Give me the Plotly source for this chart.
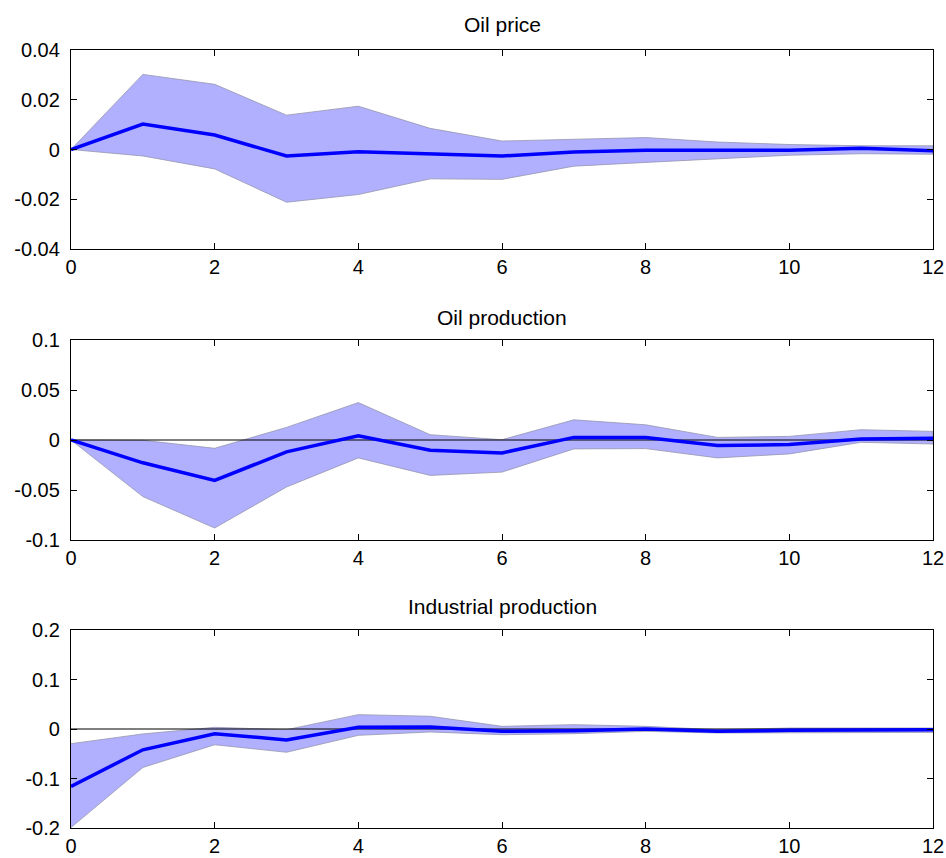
import plotly.graph_objects as go

periods = list(range(13))

titles = ["Oil price", "Oil production", "Industrial production"]

oil_price_mean = [0, 0.0102, 0.0058, -0.0026, -0.0009, -0.0016, -0.0026, -0.0010, -0.0003, -0.0003, -0.0003, 0.0005, -0.0005]
oil_price_upper = [0, 0.0302, 0.0262, 0.0138, 0.0174, 0.0085, 0.0034, 0.0040, 0.0048, 0.0030, 0.0020, 0.0015, 0.0015]
oil_price_lower = [0, -0.0026, -0.0078, -0.0212, -0.0181, -0.0118, -0.0120, -0.0067, -0.0052, -0.0039, -0.0023, -0.0017, -0.0019]

oil_prod_mean = [0, -0.0228, -0.0404, -0.0119, 0.0043, -0.0103, -0.0129, 0.0026, 0.0026, -0.0056, -0.0046, 0.0010, 0.0017]
oil_prod_upper = [0, -0.0003, -0.0083, 0.0126, 0.0374, 0.0053, 0.0003, 0.0202, 0.0152, 0.0026, 0.0036, 0.0103, 0.0086]
oil_prod_lower = [0, -0.0566, -0.0880, -0.0470, -0.0179, -0.0354, -0.0321, -0.0089, -0.0086, -0.0179, -0.0139, -0.0023, -0.0040]

ind_prod_mean = [-0.116, -0.042, -0.0095, -0.022, 0.0034, 0.004, -0.0047, -0.0034, 0.0, -0.0047, -0.0027, -0.0014, -0.0014]
ind_prod_upper = [-0.0297, -0.010, 0.0034, -0.0014, 0.029, 0.0257, 0.0054, 0.0088, 0.0054, -0.0014, 0.002, 0.002, 0.002]
ind_prod_lower = [-0.199, -0.0777, -0.0318, -0.047, -0.0128, -0.006, -0.0115, -0.0095, -0.0047, -0.0081, -0.0068, -0.0068, -0.0068]

y_ticks = [
    [-0.04, -0.02, 0, 0.02, 0.04],
    [-0.1, -0.05, 0, 0.05, 0.1],
    [-0.2, -0.1, 0, 0.1, 0.2],
]
y_ticktext = [
    ["-0.04", "-0.02", "0", "0.02", "0.04"],
    ["-0.1", "-0.05", "0", "0.05", "0.1"],
    ["-0.2", "-0.1", "0", "0.1", "0.2"],
]
x_ticks = [0, 2, 4, 6, 8, 10, 12]
show_zero_line = [False, True, True]

series = [
    (oil_price_mean, oil_price_upper, oil_price_lower),
    (oil_prod_mean, oil_prod_upper, oil_prod_lower),
    (ind_prod_mean, ind_prod_upper, ind_prod_lower),
]

H = 858.0
# pixel extents of each panel (top, bottom)
panel_px = [(50, 249), (340, 540), (630, 828)]
title_px = [25, 317, 606]

FONT = "Liberation Sans, Arial, Helvetica, sans-serif"
fig = go.Figure()
layout_axes = {}
annotations = []

for i, (mean, upper, lower) in enumerate(series):
    n = i + 1
    xa = "x" if n == 1 else f"x{n}"
    ya = "y" if n == 1 else f"y{n}"
    band_x = periods + periods[::-1]
    band_y = upper + lower[::-1]
    fig.add_trace(go.Scatter(
        x=band_x, y=band_y, fill="toself", mode="lines",
        fillcolor="rgb(176,176,255)",
        line=dict(color="rgb(150,150,175)", width=0.8),
        xaxis=xa, yaxis=ya, showlegend=False, hoverinfo="skip"))
    if show_zero_line[i]:
        fig.add_trace(go.Scatter(
            x=periods, y=[0] * len(periods), mode="lines",
            line=dict(color="black", width=1.2),
            xaxis=xa, yaxis=ya, showlegend=False, hoverinfo="skip"))
    fig.add_trace(go.Scatter(
        x=periods, y=mean, mode="lines",
        line=dict(color="rgb(0,0,255)", width=3.5),
        xaxis=xa, yaxis=ya, showlegend=False))

    top, bot = panel_px[i]
    dom = [1 - bot / H, 1 - top / H]
    xkey = "xaxis" if n == 1 else f"xaxis{n}"
    ykey = "yaxis" if n == 1 else f"yaxis{n}"
    axis_common = dict(
        showline=True, linecolor="black", linewidth=1.3, mirror="ticks",
        ticks="inside", ticklen=6, tickwidth=1.2, tickcolor="black",
        showgrid=False, zeroline=False, automargin=False,
        tickfont=dict(family=FONT, size=20, color="black"),
    )
    layout_axes[xkey] = dict(
        axis_common, domain=[0, 1], range=[0, 12], tickvals=x_ticks,
        anchor=ya, ticklabelstandoff=0)
    layout_axes[ykey] = dict(
        axis_common, domain=dom, range=[y_ticks[i][0], y_ticks[i][-1]],
        tickvals=y_ticks[i], ticktext=y_ticktext[i], anchor=xa,
        ticklabelstandoff=6)
    annotations.append(dict(
        text=titles[i], x=0.5, xref="paper", xanchor="center",
        y=1 - title_px[i] / H, yref="paper", yanchor="middle",
        showarrow=False, font=dict(family=FONT, size=21, color="black")))

fig.update_layout(
    width=946, height=858,
    margin=dict(l=71, r=13, t=0, b=0, autoexpand=False),
    paper_bgcolor="white", plot_bgcolor="white",
    annotations=annotations,
    **layout_axes,
)

fig.write_html(
    "out.html",
    config={"displayModeBar": False},
    post_script="document.body.style.margin='0';document.body.style.overflow='hidden';",
)
